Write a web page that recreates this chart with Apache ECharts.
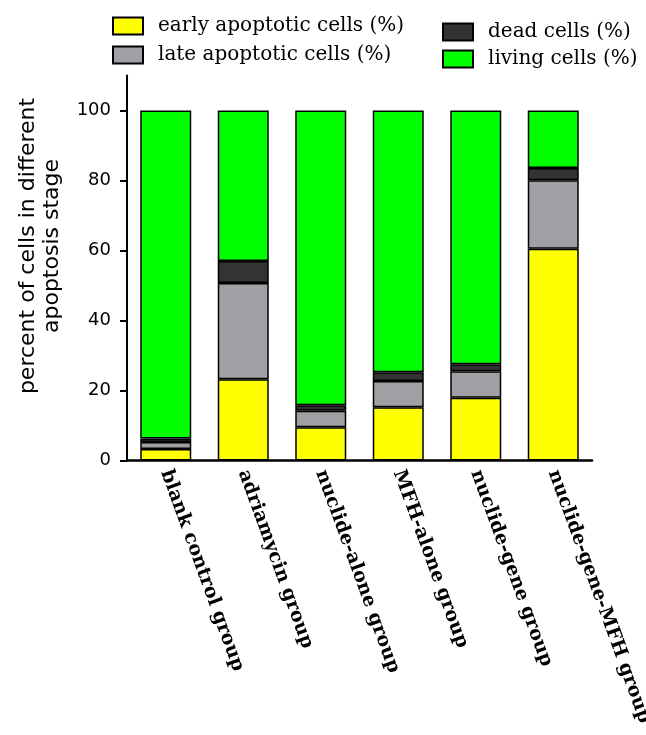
<!DOCTYPE html>
<html>
<head>
<meta charset="utf-8">
<script src="https://cdn.jsdelivr.net/npm/echarts@6/dist/echarts.min.js"></script>
<style>html,body{margin:0;padding:0;background:#fff;}#c{width:646px;height:735px;}</style>
</head>
<body>
<div id="c"></div>
<script>
const categories = ['blank control group', 'adriamycin group', 'nuclide-alone group', 'MFH-alone group', 'nuclide-gene group', 'nuclide-gene-MFH group'];
const earlyApoptotic = [3.3, 23.2, 9.5, 15.2, 17.9, 60.5];
const lateApoptotic = [2.0, 27.5, 4.7, 7.5, 7.6, 19.6];
const deadCells = [1.0, 6.3, 1.6, 2.5, 2.0, 3.5];
const livingCells = [93.7, 43.0, 84.2, 74.8, 72.5, 16.4];
const yTicks = [0, 20, 40, 60, 80, 100];

const chart = echarts.init(document.getElementById('c'), null, {renderer: 'canvas'});
const border = {borderColor: '#000', borderWidth: 1.5};
function mk(name, data, color) {
  return {name: name, type: 'bar', stack: 'all', data: data, barWidth: 51,
    itemStyle: Object.assign({color: color}, border)};
}
const legendText = {fontFamily: 'DejaVu Serif', fontSize: 20, color: '#000', lineHeight: 20, padding: [0, 0, 0, 10]};
chart.setOption({
  animation: false,
  grid: {left: 127, right: 54, top: 75.5, bottom: 274.5, containLabel: false, outerBoundsMode: 'none'},
  legend: [
    {data: ['early apoptotic cells (%)', 'late apoptotic cells (%)'], orient: 'vertical', left: 107, top: 11,
     itemWidth: 30, itemHeight: 17, itemGap: 9, icon: 'rect', textStyle: legendText},
    {data: ['dead cells (%)', 'living cells (%)'], orient: 'vertical', left: 437, top: 17,
     itemWidth: 30, itemHeight: 17, itemGap: 7, icon: 'rect', textStyle: legendText}
  ],
  graphic: [{
    type: 'text', x: 40, y: 246, rotation: Math.PI / 2,
    style: {text: 'percent of cells in different\napoptosis stage', fontFamily: 'DejaVu Sans', fontSize: 22,
      lineHeight: 24, fill: '#000', align: 'center', verticalAlign: 'middle'}
  }],
  xAxis: {
    type: 'category', data: categories,
    axisLine: {lineStyle: {color: '#000', width: 2.5}},
    axisTick: {show: false},
    axisLabel: {rotate: -70, margin: 10, interval: 0, color: '#000', fontFamily: 'DejaVu Serif', fontWeight: 'bold', fontSize: 19}
  },
  yAxis: {
    type: 'value', min: 0, max: 110, interval: 20,
    splitLine: {show: false},
    axisLine: {show: true, lineStyle: {color: '#000', width: 2}},
    axisTick: {show: true, length: 7, lineStyle: {color: '#000', width: 2}, customValues: yTicks},
    axisLabel: {margin: 16, color: '#000', fontFamily: 'DejaVu Sans', fontSize: 18, customValues: yTicks}
  },
  series: [
    mk('early apoptotic cells (%)', earlyApoptotic, '#ffff00'),
    mk('late apoptotic cells (%)', lateApoptotic, '#a0a0a4'),
    mk('dead cells (%)', deadCells, '#333333'),
    mk('living cells (%)', livingCells, '#00ff00')
  ]
});
</script>
</body>
</html>
